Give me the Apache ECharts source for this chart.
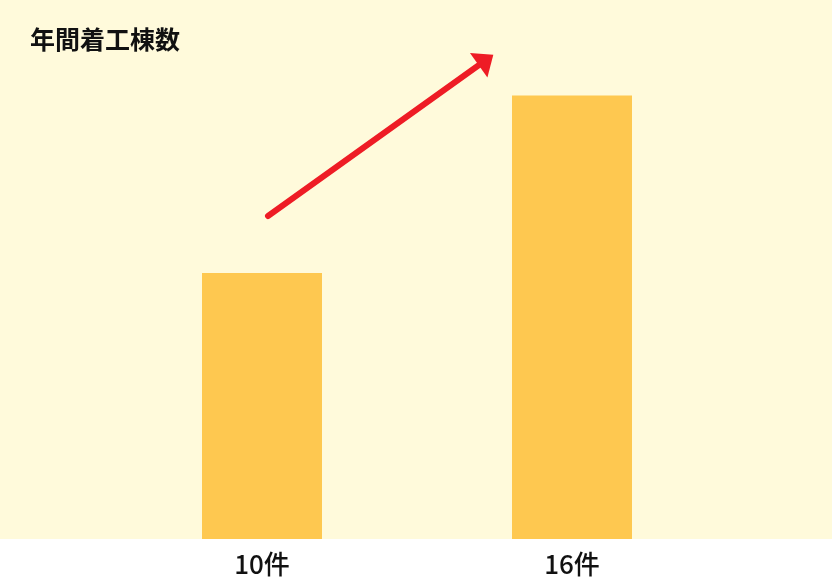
<!DOCTYPE html>
<html>
<head>
<meta charset="utf-8">
<script src="https://cdn.jsdelivr.net/npm/echarts@6/dist/echarts.min.js"></script>
<style>
html,body{margin:0;padding:0;background:#ffffff;}
#chart{width:832px;height:580px;}
</style>
</head>
<body>
<div id="chart"></div>
<script>
var title = '年間着工棟数';
var categories = ['10件', '16件'];
var values = [10, 16];
var yMin = 1;
var yMax = 17;

var chart = echarts.init(document.getElementById('chart'));
chart.setOption({
  animation: false,
  backgroundColor: '#ffffff',
  title: {
    text: title,
    left: 30,
    top: 27,
    padding: 0,
    textStyle: {
      fontFamily: 'Noto Sans CJK JP',
      fontSize: 25,
      fontWeight: 'bold',
      color: '#111111'
    }
  },
  graphic: [{
    type: 'rect',
    z: -10,
    shape: { x: 0, y: 0, width: 832, height: 539 },
    style: { fill: '#FFFADB' }
  }],
  grid: { left: 107, right: 105, top: 66, bottom: 41 },
  xAxis: {
    type: 'category',
    data: categories,
    axisLine: { show: false },
    axisTick: { show: false },
    axisLabel: {
      margin: 12,
      fontFamily: 'Noto Sans CJK JP',
      fontSize: 26,
      fontWeight: 500,
      color: '#111111'
    }
  },
  yAxis: {
    type: 'value',
    min: yMin,
    max: yMax,
    show: false,
    splitLine: { show: false }
  },
  series: [{
    type: 'bar',
    data: values,
    barWidth: 120,
    itemStyle: { color: '#FEC850' },
    markLine: {
      silent: true,
      symbol: ['none', 'triangle'],
      symbolSize: [30, 18],
      label: { show: false },
      lineStyle: { color: '#EE1C25', width: 6, type: 'solid', cap: 'round', opacity: 1 },
      data: [[{ x: 268, y: 216 }, { x: 486, y: 60 }]]
    }
  }]
});
</script>
</body>
</html>
